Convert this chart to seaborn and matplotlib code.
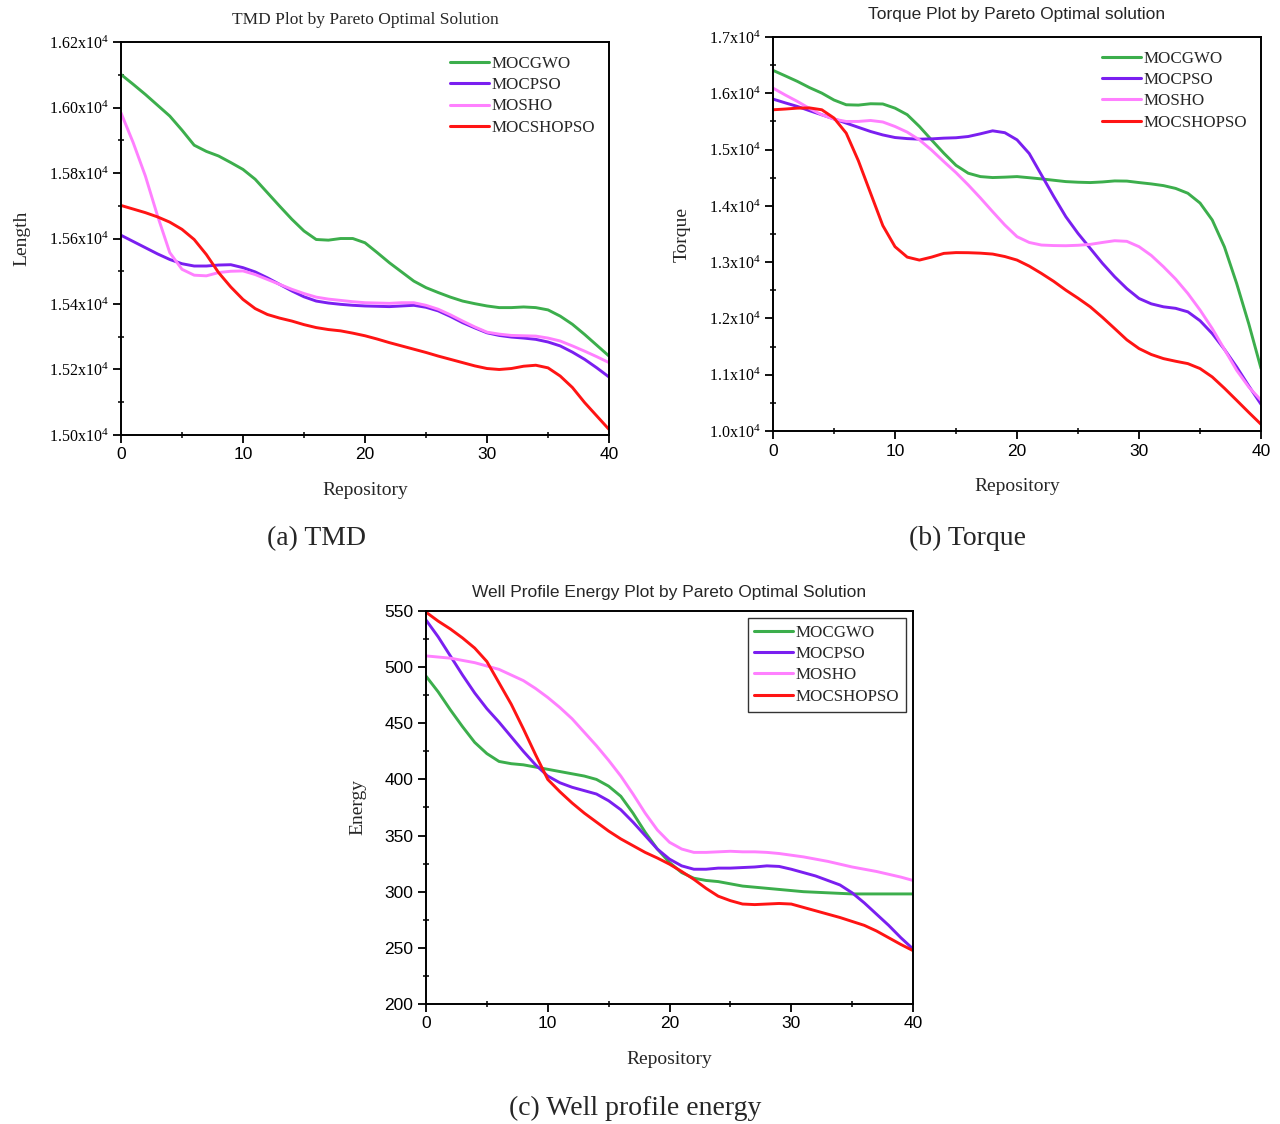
import numpy as np
import pandas as pd
import matplotlib
matplotlib.use("Agg")
import matplotlib.pyplot as plt
import seaborn as sns
from matplotlib.ticker import MultipleLocator, FuncFormatter

# ---------------- data ----------------
repository = list(range(0, 41))
algorithms = ["MOCGWO", "MOCPSO", "MOSHO", "MOCSHOPSO"]

tmd_mocgwo = [16101, 16071, 16040, 16007, 15974, 15931, 15885, 15866, 15852, 15832, 15811,
              15781, 15740, 15699, 15659, 15623, 15597, 15595, 15600, 15600, 15587,
              15557, 15526, 15498, 15470, 15450, 15435, 15421, 15409, 15401, 15394,
              15389, 15389, 15391, 15389, 15382, 15363, 15338, 15307, 15274, 15241]
tmd_mocpso = [15610, 15591, 15572, 15553, 15536, 15523, 15516, 15516, 15519, 15520, 15511,
              15498, 15480, 15460, 15440, 15422, 15409, 15403, 15399, 15396, 15394,
              15393, 15392, 15394, 15396, 15390, 15379, 15362, 15343, 15327, 15312,
              15304, 15299, 15296, 15292, 15284, 15272, 15253, 15231, 15205, 15177]
tmd_mosho = [15984, 15893, 15791, 15669, 15557, 15506, 15488, 15486, 15496, 15500, 15501,
             15490, 15475, 15460, 15445, 15432, 15421, 15415, 15411, 15407, 15404,
             15403, 15402, 15404, 15404, 15396, 15384, 15367, 15348, 15330, 15314,
             15308, 15304, 15303, 15302, 15296, 15287, 15272, 15256, 15239, 15221]
tmd_mocshopso = [15701, 15690, 15679, 15666, 15650, 15628, 15597, 15551, 15496, 15452, 15414,
                 15386, 15368, 15357, 15348, 15337, 15328, 15322, 15318, 15311, 15303,
                 15293, 15282, 15272, 15262, 15252, 15241, 15231, 15221, 15211, 15203,
                 15200, 15203, 15210, 15213, 15205, 15180, 15145, 15099, 15058, 15017]

torque_mocgwo = [16407, 16310, 16211, 16100, 16003, 15880, 15796, 15790, 15814, 15810, 15736,
                 15620, 15410, 15170, 14936, 14720, 14580, 14520, 14503, 14510, 14520,
                 14500, 14479, 14455, 14431, 14420, 14414, 14425, 14443, 14440, 14414,
                 14390, 14360, 14310, 14224, 14050, 13749, 13270, 12622, 11900, 11110]
torque_mocpso = [15897, 15830, 15766, 15690, 15618, 15545, 15470, 15395, 15321, 15260, 15214,
                 15195, 15185, 15190, 15203, 15210, 15232, 15280, 15333, 15300, 15173,
                 14930, 14550, 14170, 13808, 13510, 13245, 12980, 12741, 12530, 12355,
                 12260, 12207, 12180, 12118, 11960, 11732, 11450, 11139, 10800, 10475]
torque_mosho = [16092, 15970, 15855, 15730, 15618, 15540, 15499, 15500, 15517, 15490, 15410,
                15310, 15173, 14990, 14787, 14590, 14372, 14140, 13897, 13660, 13453,
                13350, 13304, 13295, 13292, 13300, 13316, 13350, 13381, 13370, 13275,
                13120, 12919, 12700, 12444, 12150, 11821, 11450, 11080, 10780, 10546]
torque_mocshopso = [15707, 15720, 15736, 15740, 15707, 15560, 15292, 14800, 14224, 13650, 13275,
                    13090, 13037, 13090, 13156, 13170, 13168, 13160, 13144, 13100, 13037,
                    12930, 12800, 12660, 12503, 12360, 12207, 12020, 11821, 11620, 11465,
                    11360, 11287, 11240, 11198, 11110, 10961, 10760, 10546, 10330, 10119]

energy_mocgwo = [492, 478, 462, 447, 433, 423, 416, 414, 413, 411, 409,
                 407, 405, 403, 400, 394, 385, 370, 353, 338, 326,
                 317, 312, 310, 309, 307, 305, 304, 303, 302, 301,
                 300, 299.5, 299, 298.5, 298, 298, 298, 298, 298, 298]
energy_mocpso = [542, 527, 510, 493, 477, 463, 451, 438, 425, 413, 403,
                 397, 393, 390, 387, 381, 373, 362, 350, 338, 329,
                 323, 320, 320, 321, 321, 321.5, 322, 323, 322.5, 320,
                 317, 314, 310, 306, 299, 290, 280, 270, 259, 249]
energy_mosho = [510, 509, 508, 506, 504, 501, 498, 493, 488, 481, 473,
                464, 454, 442, 430, 417, 403, 387, 370, 355, 344,
                338, 335, 335, 335.5, 336, 335.5, 335.5, 335, 334, 332.5,
                331, 329, 327, 324.5, 322, 320, 318, 315.5, 313, 310]
energy_mocshopso = [549, 541, 534, 526, 517, 505, 486, 467, 445, 422, 400,
                    389, 379, 370, 362, 354, 347, 341, 335, 330, 324.5,
                    318, 311, 303, 296, 292, 289, 288.5, 289, 289.5, 289,
                    286, 283, 280, 277, 273.5, 270, 265, 259, 253, 247.5]

colors = ["#3cae4c", "#7a1ff0", "#ff80ff", "#ff1414"]

# ---------------- style ----------------
sns.set_theme(style="ticks")
SERIF = ["Liberation Serif", "DejaVu Serif"]
SANS = ["Liberation Sans", "DejaVu Sans"]
plt.rcParams["font.family"] = SERIF
plt.rcParams["mathtext.default"] = "regular"
plt.rcParams["axes.linewidth"] = 1.4


def make_df(series):
    frames = []
    for name, vals in zip(algorithms, series):
        frames.append(pd.DataFrame({"Repository": repository, "Value": vals, "Algorithm": name}))
    return pd.concat(frames, ignore_index=True)


fig = plt.figure(figsize=(12.8, 11.24), dpi=100)
ax_a = fig.add_axes([0.0945, 0.613, 0.3813, 0.3496])
ax_b = fig.add_axes([0.6039, 0.6165, 0.3813, 0.3506])
ax_c = fig.add_axes([0.3328, 0.1068, 0.3805, 0.3496])

panels = [
    (ax_a, [tmd_mocgwo, tmd_mocpso, tmd_mosho, tmd_mocshopso], "Length",
     "TMD Plot by Pareto Optimal Solution", SERIF, (15000, 16200), 200, 100, "sci2", False, 13, 13),
    (ax_b, [torque_mocgwo, torque_mocpso, torque_mosho, torque_mocshopso], "Torque",
     "Torque Plot by Pareto Optimal solution", SANS, (10000, 17000), 1000, 500, "sci1", False, 13, 13),
    (ax_c, [energy_mocgwo, energy_mocpso, energy_mosho, energy_mocshopso], "Energy",
     "Well Profile Energy Plot by Pareto Optimal Solution", SANS, (200, 550), 50, 25, "plain", True, 10, 13),
]

for ax, series, ylabel, title, title_font, ylim, ymaj, ymin, fmt, framed, tpad, ylpad in panels:
    df = make_df(series)
    sns.lineplot(data=df, x="Repository", y="Value", hue="Algorithm",
                 hue_order=algorithms, palette=colors, linewidth=2.1, ax=ax)
    for ln in ax.get_lines():
        ln.set_solid_joinstyle("round")
        ln.set_solid_capstyle("round")
    ax.set_xlim(0, 40)
    ax.set_ylim(*ylim)
    ax.xaxis.set_major_locator(MultipleLocator(10))
    ax.xaxis.set_minor_locator(MultipleLocator(5))
    ax.yaxis.set_major_locator(MultipleLocator(ymaj))
    ax.yaxis.set_minor_locator(MultipleLocator(ymin))
    if fmt == "sci2":
        ax.yaxis.set_major_formatter(FuncFormatter(lambda v, p: f"{v/1e4:.2f}x10$^{{4}}$"))
    elif fmt == "sci1":
        ax.yaxis.set_major_formatter(FuncFormatter(lambda v, p: f"{v/1e4:.1f}x10$^{{4}}$"))
    else:
        ax.yaxis.set_major_formatter(FuncFormatter(lambda v, p: f"{int(v)}"))
    ax.tick_params(axis="both", which="major", direction="out", length=6, width=1.3,
                   colors="black", pad=3)
    ax.tick_params(axis="both", which="minor", direction="inout", length=4, width=1.1,
                   colors="black")
    for lab in ax.get_xticklabels():
        lab.set_fontfamily(SANS)
        lab.set_fontsize(12.5)
    for lab in ax.get_yticklabels():
        if fmt == "plain":
            lab.set_fontfamily(SANS)
            lab.set_fontsize(12.5)
        else:
            lab.set_fontfamily(SERIF)
            lab.set_fontsize(11.5)
    for sp in ax.spines.values():
        sp.set_visible(True)
        sp.set_color("black")
        sp.set_linewidth(1.4)
    ax.set_xlabel("Repository", fontsize=14, family=SERIF, labelpad=14)
    ax.set_ylabel(ylabel, fontsize=14, family=SERIF, labelpad=ylpad)
    ax.set_title(title, fontsize=12.5, family=title_font, pad=tpad)
    handles, labels = ax.get_legend_handles_labels()
    leg = ax.legend(handles, labels, loc="upper right", frameon=framed,
                    handlelength=2.3, handletextpad=0.15, labelspacing=0.32,
                    borderpad=0.4, borderaxespad=0.4, fancybox=False,
                    prop={"family": SERIF, "size": 12.2})
    if framed:
        leg.get_frame().set_edgecolor("black")
        leg.get_frame().set_linewidth(1.0)
    for line in leg.get_lines():
        line.set_linewidth(2.2)

fig.text(0.247, 0.521, "(a) TMD", ha="center", va="center", fontsize=20, family=SERIF)
fig.text(0.756, 0.521, "(b) Torque", ha="center", va="center", fontsize=20, family=SERIF)
fig.text(0.496, 0.014, "(c) Well profile energy", ha="center", va="center", fontsize=20, family=SERIF)

fig.savefig("out.png", dpi=100, facecolor="white")
